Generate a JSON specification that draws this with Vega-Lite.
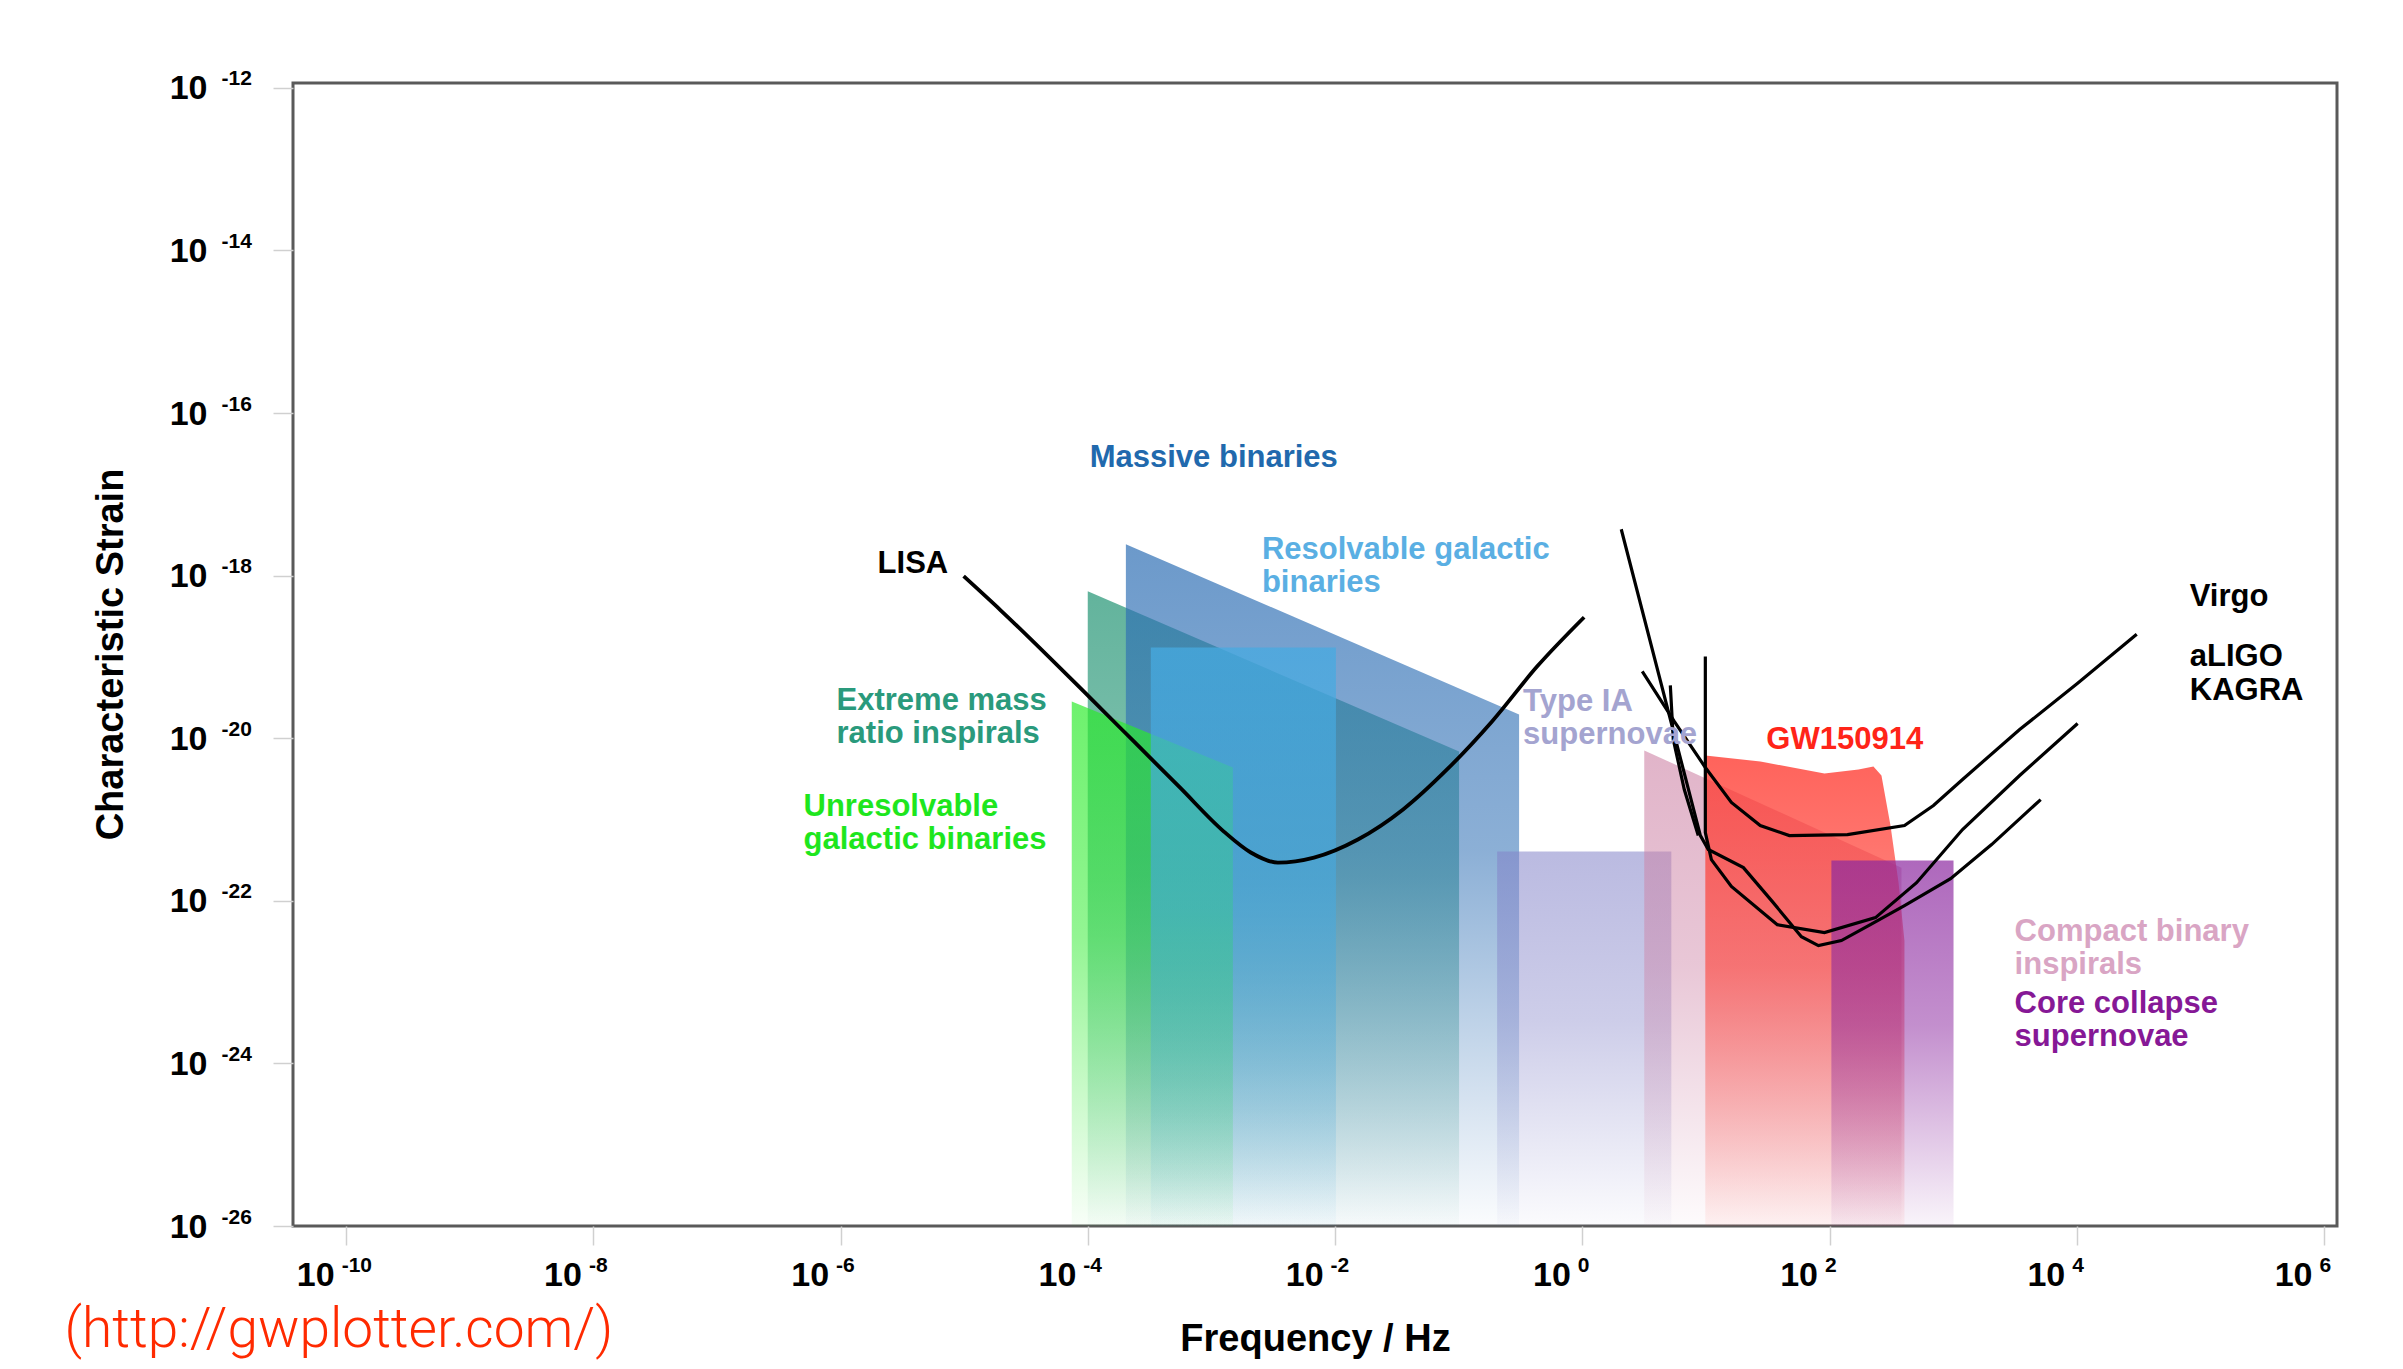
{
  "$schema": "https://vega.github.io/schema/vega-lite/v6.json",
  "width": 2044,
  "height": 1143,
  "autosize": "none",
  "padding": {"left": 293, "top": 83, "right": 66, "bottom": 143},
  "background": "white",
  "config": {
    "view": {"stroke": "#5a5a5a", "strokeWidth": 3},
    "axis": {"grid": false, "domain": false},
    "font": "Liberation Sans"
  },
  "datasets": {
    "emri": [{"f": 9.98e-5, "h": 6.43e-19}, {"f": 0.1007, "h": 6.87e-21}],
    "massive": [{"f": 2.03e-4, "h": 2.44e-18}, {"f": 0.308, "h": 1.96e-20}],
    "unres": [{"f": 7.41e-5, "h": 2.84e-20}, {"f": 1.49e-3, "h": 4.37e-21}],
    "resolv": [{"f": 3.23e-4, "h": 1.31e-19}, {"f": 1.016e-2, "h": 1.31e-19}],
    "typeia": [{"f": 0.2046, "h": 4.04e-22}, {"f": 5.25, "h": 4.04e-22}],
    "compact": [{"f": 3.17, "h": 7.08e-21}, {"f": 382, "h": 2.56e-22}],
    "gw": [
      {"f": 9.886, "h": 6.138e-21}, {"f": 27.54, "h": 5.176e-21}, {"f": 90.99, "h": 3.69e-21},
      {"f": 171.4, "h": 4.13e-21}, {"f": 226.5, "h": 4.498e-21}, {"f": 263.0, "h": 3.483e-21},
      {"f": 311.2, "h": 8.433e-22}, {"f": 361.4, "h": 1.675e-22}, {"f": 403.6, "h": 3.236e-23}
    ],
    "core": [{"f": 103.5, "h": 3.13e-22}, {"f": 1007, "h": 3.13e-22}],
    "lisa": [
      {"f": 9.89e-6, "h": 9.84e-19}, {"f": 1.97e-5, "h": 3.75e-19}, {"f": 1.035e-4, "h": 3.18e-20},
      {"f": 2.40e-4, "h": 8.87e-21}, {"f": 5.55e-4, "h": 2.48e-21}, {"f": 1.26e-3, "h": 7.11e-22},
      {"f": 2.08e-3, "h": 3.93e-22}, {"f": 3.45e-3, "h": 2.95e-22}, {"f": 6.75e-3, "h": 3.40e-22},
      {"f": 1.53e-2, "h": 5.68e-22}, {"f": 3.55e-2, "h": 1.33e-21}, {"f": 8.05e-2, "h": 4.13e-21},
      {"f": 0.186, "h": 1.61e-20}, {"f": 0.432, "h": 7.66e-20}, {"f": 1.035, "h": 3.08e-19}
    ],
    "detectors": [
      {"curve": "U", "i": 1, "f": 3.055, "h": 6.65e-20},
      {"curve": "U", "i": 2, "f": 5.546, "h": 1.61e-20},
      {"curve": "U", "i": 3, "f": 9.89, "h": 4.37e-21},
      {"curve": "U", "i": 4, "f": 16.07, "h": 1.62e-21},
      {"curve": "U", "i": 5, "f": 27.5, "h": 8.43e-22},
      {"curve": "U", "i": 6, "f": 47.3, "h": 6.35e-22},
      {"curve": "U", "i": 7, "f": 139.6, "h": 6.53e-22},
      {"curve": "U", "i": 8, "f": 404, "h": 8.43e-22},
      {"curve": "U", "i": 9, "f": 693, "h": 1.49e-21},
      {"curve": "U", "i": 10, "f": 1191, "h": 3.11e-21},
      {"curve": "U", "i": 11, "f": 3451, "h": 1.28e-20},
      {"curve": "U", "i": 12, "f": 10160, "h": 4.73e-20},
      {"curve": "U", "i": 13, "f": 30550, "h": 1.90e-19},
      {"curve": "A", "i": 1, "f": 9.89, "h": 1.016e-19},
      {"curve": "A", "i": 2, "f": 9.89, "h": 6.92e-22},
      {"curve": "A", "i": 3, "f": 11.07, "h": 3.21e-22},
      {"curve": "A", "i": 4, "f": 16.07, "h": 1.50e-22},
      {"curve": "A", "i": 5, "f": 37.8, "h": 5.09e-23},
      {"curve": "A", "i": 6, "f": 91.0, "h": 4.06e-23},
      {"curve": "A", "i": 7, "f": 235.5, "h": 6.21e-23},
      {"curve": "A", "i": 8, "f": 505.8, "h": 1.67e-22},
      {"curve": "A", "i": 9, "f": 1191, "h": 7.53e-22},
      {"curve": "A", "i": 10, "f": 3451, "h": 3.48e-21},
      {"curve": "A", "i": 11, "f": 10160, "h": 1.52e-20},
      {"curve": "K", "i": 1, "f": 2.065, "h": 3.72e-18},
      {"curve": "K", "i": 2, "f": 9.02, "h": 6.35e-22},
      {"curve": "K", "i": 3, "f": 10.45, "h": 4.28e-22},
      {"curve": "K", "i": 4, "f": 20.1, "h": 2.56e-22},
      {"curve": "K", "i": 5, "f": 34.5, "h": 9.77e-23},
      {"curve": "K", "i": 6, "f": 59.2, "h": 3.62e-23},
      {"curve": "K", "i": 7, "f": 81.3, "h": 2.81e-23},
      {"curve": "K", "i": 8, "f": 124.7, "h": 3.24e-23},
      {"curve": "K", "i": 9, "f": 214, "h": 5.09e-23},
      {"curve": "K", "i": 10, "f": 404, "h": 8.73e-23},
      {"curve": "K", "i": 11, "f": 953, "h": 1.87e-22},
      {"curve": "K", "i": 12, "f": 2046, "h": 4.92e-22},
      {"curve": "K", "i": 13, "f": 5105, "h": 1.76e-21},
      {"curve": "S", "i": 1, "f": 5.152, "h": 4.467e-20},
      {"curve": "S", "i": 2, "f": 5.445, "h": 9.66e-21},
      {"curve": "S", "i": 3, "f": 6.683, "h": 2.339e-21},
      {"curve": "S", "i": 4, "f": 8.67, "h": 6.35e-22}
    ],
    "labels": [
      {"text": "Massive binaries", "g": "massive", "f": 1.035e-4, "h": 2.163e-17},
      {"text": "Resolvable galactic", "g": "resolv", "f": 2.559e-3, "h": 1.592e-18},
      {"text": "binaries", "g": "resolv", "f": 2.559e-3, "h": 6.252e-19},
      {"text": "Extreme mass", "g": "emri", "f": 9.27e-7, "h": 2.198e-20},
      {"text": "ratio inspirals", "g": "emri", "f": 9.27e-7, "h": 8.630e-21},
      {"text": "Unresolvable", "g": "unres", "f": 5.012e-7, "h": 1.119e-21},
      {"text": "galactic binaries", "g": "unres", "f": 5.012e-7, "h": 4.395e-22},
      {"text": "LISA", "g": "det", "f": 1.991e-6, "h": 1.072e-18},
      {"text": "Type IA", "g": "typeia", "f": 0.3319, "h": 2.138e-20},
      {"text": "supernovae", "g": "typeia", "f": 0.3319, "h": 8.395e-21},
      {"text": "GW150914", "g": "gw", "f": 30.83, "h": 7.278e-21},
      {"text": "Virgo", "g": "det", "f": 82030, "h": 4.198e-19},
      {"text": "aLIGO", "g": "det", "f": 82030, "h": 7.66e-20},
      {"text": "KAGRA", "g": "det", "f": 82030, "h": 2.95e-20},
      {"text": "Compact binary", "g": "compact", "f": 3141, "h": 3.236e-23},
      {"text": "inspirals", "g": "compact", "f": 3141, "h": 1.268e-23},
      {"text": "Core collapse", "g": "core", "f": 3141, "h": 4.198e-24},
      {"text": "supernovae", "g": "core", "f": 3141, "h": 1.648e-24}
    ]
  },
  "encoding": {
    "x": {"field": "f", "type": "quantitative", "scale": {"type": "log", "domain": [3.715e-11, 1.274e6], "nice": false}, "axis": null},
    "y": {"field": "h", "type": "quantitative", "scale": {"type": "log", "domain": [1e-26, 1.148e-12], "nice": false}, "axis": null}
  },
  "resolve": {"axis": {"x": "independent", "y": "independent"}},
  "layer": [
    {
      "data": {"name": "emri"},
      "mark": {"type": "area", "color": {"gradient": "linear", "x1": 0, "y1": 0, "x2": 0, "y2": 1, "stops": [
        {"offset": 0, "color": "rgba(38,150,118,0.72)"}, {"offset": 0.45, "color": "rgba(38,150,118,0.55)"}, {"offset": 1, "color": "rgba(38,150,118,0.02)"}]}},
      "encoding": {
        "x": {"field": "f", "type": "quantitative", "scale": {"type": "log", "domain": [3.715e-11, 1.274e6], "nice": false},
          "axis": {"orient": "bottom", "values": [1e-10, 1e-8, 1e-6, 1e-4, 1e-2, 1, 100, 10000, 1000000],
            "labelExpr": "'10'", "labelFont": "Liberation Sans", "labelFontWeight": "bold", "labelFontSize": 34, "labelColor": "#000000",
            "labelAlign": "right", "labelBaseline": "alphabetic", "labelOffset": -12, "labelPadding": 40, "labelFlush": false, "labelOverlap": false,
            "ticks": true, "tickSize": 19, "tickColor": "#d0d0d0", "tickWidth": 1.5,
            "title": "Frequency / Hz", "titleFont": "Liberation Sans", "titleFontWeight": "bold", "titleFontSize": 38, "titleColor": "#000000",
            "titleX": 1022, "titleY": 124, "titleAlign": "center", "titleBaseline": "alphabetic"}},
        "y": {"field": "h", "type": "quantitative", "scale": {"type": "log", "domain": [1e-26, 1.148e-12], "nice": false},
          "axis": {"orient": "left", "values": [1e-26, 1e-24, 1e-22, 1e-20, 1e-18, 1e-16, 1e-14, 1e-12],
            "labelExpr": "'10'", "labelFont": "Liberation Sans", "labelFontWeight": "bold", "labelFontSize": 34, "labelColor": "#000000",
            "labelAlign": "right", "labelBaseline": "middle", "labelOffset": 1, "labelPadding": 66, "labelFlush": false, "labelOverlap": false,
            "ticks": true, "tickSize": 20, "tickColor": "#d0d0d0", "tickWidth": 1.5,
            "title": "Characteristic Strain", "titleFont": "Liberation Sans", "titleFontWeight": "bold", "titleFontSize": 38, "titleColor": "#000000",
            "titleAngle": -90, "titleX": -171, "titleY": 571, "titleAlign": "center", "titleBaseline": "alphabetic"}},
        "y2": {"datum": 1e-26}
      }
    },
    {
      "data": {"name": "massive"},
      "mark": {"type": "area", "color": {"gradient": "linear", "x1": 0, "y1": 0, "x2": 0, "y2": 1, "stops": [
        {"offset": 0, "color": "rgba(45,110,180,0.70)"}, {"offset": 0.45, "color": "rgba(45,110,180,0.55)"}, {"offset": 1, "color": "rgba(45,110,180,0.02)"}]}},
      "encoding": {
        "x": {"field": "f", "type": "quantitative", "scale": {"type": "log", "domain": [3.715e-11, 1.274e6], "nice": false},
          "axis": {"orient": "bottom", "values": [1e-10, 1e-8, 1e-6, 1e-4, 1e-2, 1, 100, 10000, 1000000],
            "labelExpr": "'' + round(log(datum.value) / LN10)", "labelFont": "Liberation Sans", "labelFontWeight": "bold", "labelFontSize": 21, "labelColor": "#000000",
            "labelAlign": "left", "labelBaseline": "alphabetic", "labelOffset": -5, "labelPadding": 45, "labelFlush": false, "labelOverlap": false,
            "ticks": false, "tickSize": 0,
            "title": "(http://gwplotter.com/)", "titleFont": "Roboto", "titleFontWeight": 300, "titleFontSize": 55, "titleColor": "#ff2a00",
            "titleX": -229, "titleY": 120, "titleAlign": "left", "titleBaseline": "alphabetic"}},
        "y": {"field": "h", "type": "quantitative", "scale": {"type": "log", "domain": [1e-26, 1.148e-12], "nice": false},
          "axis": {"orient": "left", "values": [1e-26, 1e-24, 1e-22, 1e-20, 1e-18, 1e-16, 1e-14, 1e-12],
            "labelExpr": "'' + round(log(datum.value) / LN10)", "labelFont": "Liberation Sans", "labelFontWeight": "bold", "labelFontSize": 21, "labelColor": "#000000",
            "labelAlign": "left", "labelBaseline": "middle", "labelOffset": -9, "labelPadding": 72, "labelFlush": false, "labelOverlap": false,
            "ticks": false, "tickSize": 0, "title": null}},
        "y2": {"datum": 1e-26}
      }
    },
    {
      "data": {"name": "unres"},
      "mark": {"type": "area", "color": {"gradient": "linear", "x1": 0, "y1": 0, "x2": 0, "y2": 1, "stops": [
        {"offset": 0, "color": "rgba(40,235,40,0.68)"}, {"offset": 0.45, "color": "rgba(40,235,40,0.50)"}, {"offset": 1, "color": "rgba(40,235,40,0.03)"}]}},
      "encoding": {"y2": {"datum": 1e-26}}
    },
    {
      "data": {"name": "resolv"},
      "mark": {"type": "area", "color": {"gradient": "linear", "x1": 0, "y1": 0, "x2": 0, "y2": 1, "stops": [
        {"offset": 0, "color": "rgba(70,170,225,0.75)"}, {"offset": 0.45, "color": "rgba(70,170,225,0.58)"}, {"offset": 1, "color": "rgba(70,170,225,0.03)"}]}},
      "encoding": {"y2": {"datum": 1e-26}}
    },
    {
      "data": {"name": "typeia"},
      "mark": {"type": "area", "color": {"gradient": "linear", "x1": 0, "y1": 0, "x2": 0, "y2": 1, "stops": [
        {"offset": 0, "color": "rgba(130,130,200,0.55)"}, {"offset": 0.45, "color": "rgba(130,130,200,0.40)"}, {"offset": 1, "color": "rgba(130,130,200,0.03)"}]}},
      "encoding": {"y2": {"datum": 1e-26}}
    },
    {
      "data": {"name": "compact"},
      "mark": {"type": "area", "color": {"gradient": "linear", "x1": 0, "y1": 0, "x2": 0, "y2": 1, "stops": [
        {"offset": 0, "color": "rgba(205,130,165,0.60)"}, {"offset": 0.45, "color": "rgba(205,130,165,0.45)"}, {"offset": 1, "color": "rgba(205,130,165,0.03)"}]}},
      "encoding": {"y2": {"datum": 1e-26}}
    },
    {
      "data": {"name": "gw"},
      "mark": {"type": "area", "color": {"gradient": "linear", "x1": 0, "y1": 0, "x2": 0, "y2": 1, "stops": [
        {"offset": 0, "color": "rgba(255,55,45,0.78)"}, {"offset": 0.45, "color": "rgba(255,55,45,0.58)"}, {"offset": 1, "color": "rgba(255,55,45,0.05)"}]}},
      "encoding": {"y2": {"datum": 1e-26}}
    },
    {
      "data": {"name": "core"},
      "mark": {"type": "area", "color": {"gradient": "linear", "x1": 0, "y1": 0, "x2": 0, "y2": 1, "stops": [
        {"offset": 0, "color": "rgba(140,40,160,0.70)"}, {"offset": 0.45, "color": "rgba(140,40,160,0.52)"}, {"offset": 1, "color": "rgba(140,40,160,0.05)"}]}},
      "encoding": {"y2": {"datum": 1e-26}}
    },
    {
      "data": {"name": "lisa"},
      "mark": {"type": "line", "color": "#000000", "strokeWidth": 3.8, "interpolate": "monotone"},
      "encoding": {}
    },
    {
      "data": {"name": "detectors"},
      "mark": {"type": "line", "color": "#000000", "strokeWidth": 3.2},
      "encoding": {"detail": {"field": "curve", "type": "nominal"}, "order": {"field": "i", "type": "quantitative"}}
    },
    {
      "data": {"name": "labels"},
      "mark": {"type": "text", "align": "left", "baseline": "alphabetic", "font": "Liberation Sans", "fontWeight": "bold", "fontSize": 31},
      "encoding": {
        "text": {"field": "text", "type": "nominal"},
        "color": {"field": "g", "type": "nominal", "legend": null,
          "scale": {"domain": ["massive", "resolv", "emri", "unres", "det", "typeia", "gw", "compact", "core"],
            "range": ["#2169ad", "#5aafe3", "#2a9a7c", "#1ee61e", "#000000", "#a4a4d0", "#ff2418", "#d9a5c4", "#861896"]}}
      }
    }
  ]
}
